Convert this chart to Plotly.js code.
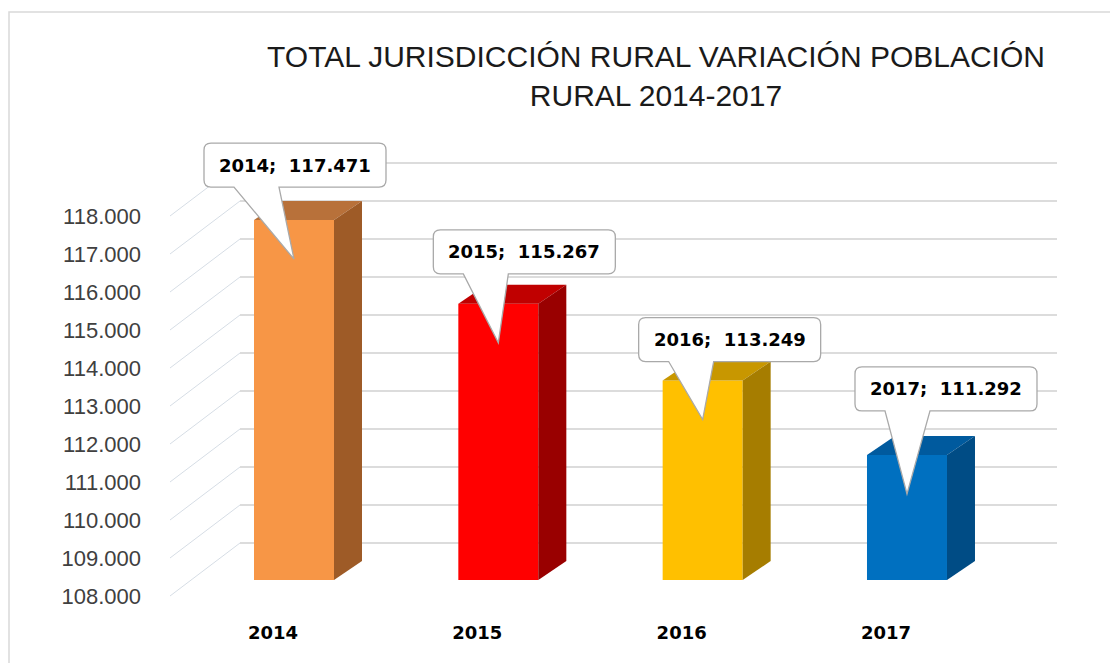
<!DOCTYPE html>
<html>
<head>
<meta charset="utf-8">
<script src="https://cdn.plot.ly/plotly-3.0.1.min.js"></script>
<style>html,body{margin:0;padding:0;background:#fff;}#chart{width:1110px;height:663px;}</style>
</head>
<body>
<div id="chart"></div>
<script>
// ---- data ----
const categories = ['2014', '2015', '2016', '2017'];
const values = [117471, 115267, 113249, 111292];
const yTicks = [108000, 109000, 110000, 111000, 112000, 113000, 114000, 115000, 116000, 117000, 118000];
const titleText = 'TOTAL JURISDICCIÓN RURAL VARIACIÓN POBLACIÓN<br>RURAL 2014-2017';

// ---- styles ----
const frontColors = ['#F79646', '#FF0000', '#FFC000', '#0070C0'];
const topColors = ['#B8713A', '#C00000', '#C89700', '#005A9E'];
const sideColors = ['#9E5B27', '#990000', '#A67D00', '#004C85'];
const labelOffsetXpx = [1, 26, 27, 39];
const labelOffsetYpx = [55, 52, 41, 66];

// ---- geometry (pixel based) ----
const PX_X = 204.33;          // px per category
const PX_Y = 38 / 1000;       // px per unit
const BASE = 108000;
const XMIN = -124 / PX_X;
const XMAX = XMIN + 890 / PX_X;
const YMIN = BASE - 40 / PX_Y;
const YMAX = BASE + 440 / PX_Y;
const dxu = p => p / PX_X;
const dyu = p => p / PX_Y;
const idx = categories.map((c, i) => i);

function fmt(v) { return String(v).replace(/\B(?=(\d{3})+(?!\d))/g, '.'); }

const shapes = [];
// chart frame
shapes.push({type: 'rect', xref: 'paper', yref: 'paper', x0: (9 - 170) / 890, x1: (1125 - 170) / 890,
  y0: (620 - 680) / 480, y1: (620 - 12) / 480, line: {color: '#d9d9d9', width: 1.5}, fillcolor: 'rgba(0,0,0,0)', layer: 'below'});
// 3D gridlines
yTicks.forEach(t => {
  const front = t - dyu(16), wall = t + dyu(37);
  shapes.push({type: 'line', xref: 'x', yref: 'y', x0: XMIN, y0: front, x1: XMIN + dxu(70), y1: wall,
    line: {color: '#d6dde5', width: 1}, layer: 'below'});
  shapes.push({type: 'line', xref: 'x', yref: 'y', x0: XMIN + dxu(70), y0: wall, x1: XMIN + dxu(887), y1: wall,
    line: {color: '#dcdcdc', width: 2}, layer: 'below'});
});

const traces = [];
traces.push({
  type: 'bar', x: idx, y: values.map(v => v - BASE), base: BASE, width: dxu(80),
  marker: {color: frontColors, line: {width: 0}}, hoverinfo: 'skip', showlegend: false
});
values.forEach((v, i) => {
  const xl = i - dxu(40), xr = i + dxu(40), dx = dxu(28), dy = dyu(19);
  traces.push({type: 'scatter', mode: 'lines', x: [xl, xr, xr + dx, xl + dx, xl], y: [v, v, v + dy, v + dy, v],
    fill: 'toself', fillcolor: topColors[i], line: {width: 0, color: topColors[i]}, hoverinfo: 'skip', showlegend: false});
  traces.push({type: 'scatter', mode: 'lines', x: [xr, xr + dx, xr + dx, xr, xr], y: [BASE, BASE + dy, v + dy, v, BASE],
    fill: 'toself', fillcolor: sideColors[i], line: {width: 0, color: sideColors[i]}, hoverinfo: 'skip', showlegend: false});
});

// callouts
const annotations = [];
values.forEach((v, i) => {
  const cx = i + dxu(labelOffsetXpx[i]);
  const cy = v + dyu(labelOffsetYpx[i]);
  const L = cx - dxu(91), R = cx + dxu(91), T = cy + dyu(22), B = cy - dyu(22);
  const rx = dxu(7), ry = dyu(7);
  const tipx = i, tipy = v - dyu(39);
  const p = [
    'M', L + rx, T, 'L', R - rx, T, 'Q', R, T, R, T - ry, 'L', R, B + ry, 'Q', R, B, R - rx, B,
    'L', L + dxu(75), B, 'L', tipx, tipy, 'L', L + dxu(30), B, 'L', L + rx, B,
    'Q', L, B, L, B + ry, 'L', L, T - ry, 'Q', L, T, L + rx, T, 'Z'
  ];
  let path = '';
  for (let k = 0; k < p.length; k++) {
    const s = p[k];
    if (typeof s === 'string') path += s;
    else path += s + ((typeof p[k + 1] === 'number') ? ',' : ' ');
  }
  shapes.push({type: 'path', xref: 'x', yref: 'y', path: path, fillcolor: '#ffffff',
    line: {color: '#a9a9a9', width: 1.3}, layer: 'above'});
  annotations.push({x: cx, y: cy, xref: 'x', yref: 'y', showarrow: false, xanchor: 'center', yanchor: 'middle',
    text: categories[i] + ';\u00a0 ' + fmt(v),
    font: {family: 'Verdana, "DejaVu Sans", sans-serif', size: 18, color: '#000', weight: 700}});
});

const layout = {
  width: 1110, height: 663,
  margin: {l: 170, r: 50, t: 140, b: 43},
  paper_bgcolor: '#ffffff', plot_bgcolor: 'rgba(0,0,0,0)',
  separators: ',.',
  showlegend: false,
  title: {
    text: titleText, xref: 'container', yref: 'container', x: 656 / 1110, xanchor: 'center',
    y: 1 - 67 / 663, yanchor: 'middle',
    font: {family: '"Liberation Sans", Arial, sans-serif', size: 30, color: '#1a1a1a'}
  },
  xaxis: {
    range: [XMIN, XMAX], tickvals: idx, ticktext: categories, showgrid: false, zeroline: false, showline: false,
    ticks: '', ticklabelshift: -21, fixedrange: true,
    tickfont: {family: 'Verdana, "DejaVu Sans", sans-serif', size: 18, color: '#000', weight: 700}
  },
  yaxis: {
    range: [YMIN, YMAX], tickvals: yTicks, tickformat: ',.0f', showgrid: false, zeroline: false, showline: false,
    ticks: '', ticklabelshift: 16, ticklabelstandoff: 28, fixedrange: true,
    tickfont: {family: '"Liberation Sans", Arial, sans-serif', size: 22, color: '#404040'}
  },
  shapes: shapes,
  annotations: annotations
};

Plotly.newPlot('chart', traces, layout, {displayModeBar: false, staticPlot: true});
</script>
</body>
</html>
